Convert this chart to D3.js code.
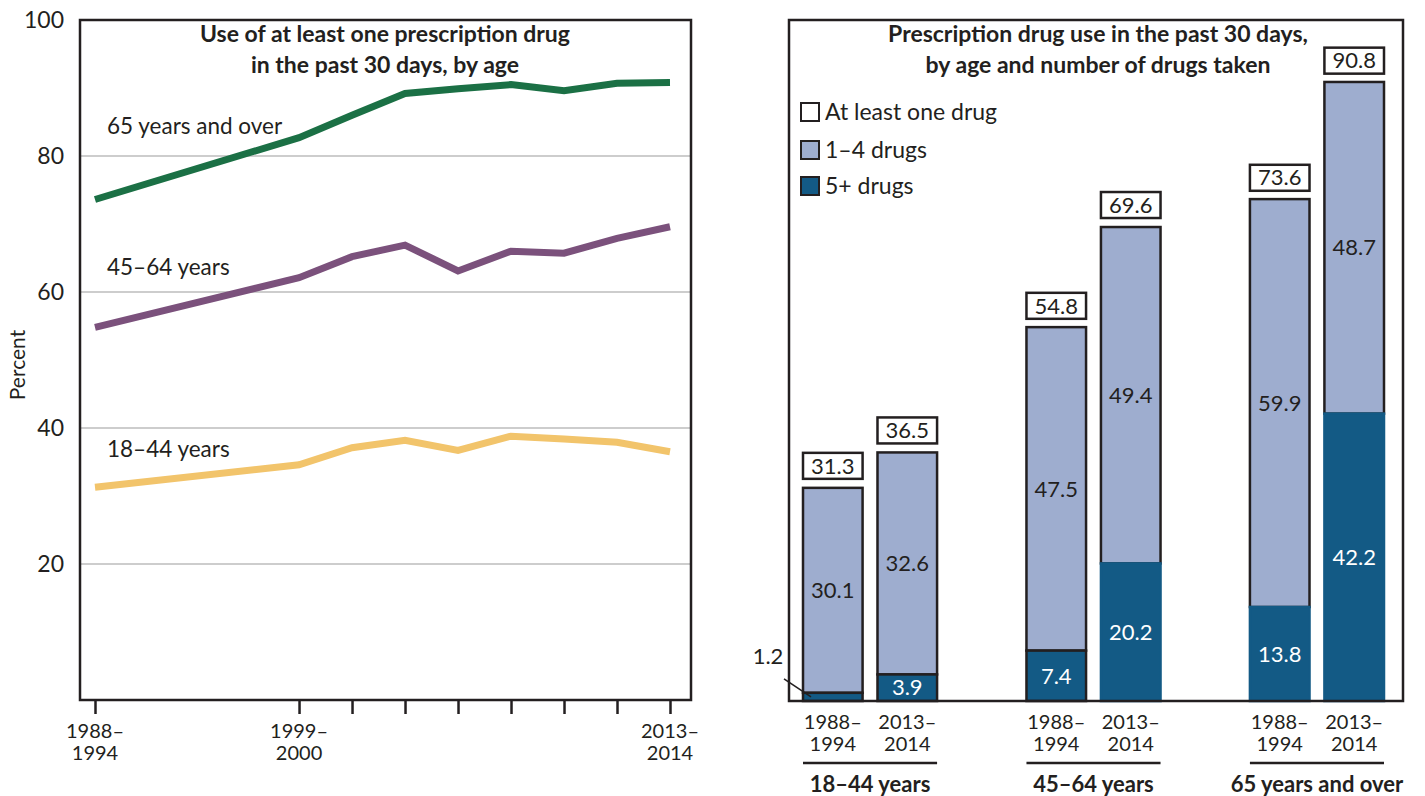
<!DOCTYPE html>
<html>
<head>
<meta charset="utf-8">
<script src="https://cdn.jsdelivr.net/npm/d3@7"></script>
<style>
  body { margin: 0; background: #fff; }
  svg text { font-family: Lato, "Open Sans", sans-serif; fill: #231f20; }
</style>
</head>
<body>
<svg id="chart"></svg>
<script>
// ---- data: left panel (line chart) ----
var periods = ["1988–1994", "1999–2000", "2001–2002", "2003–2004", "2005–2006", "2007–2008", "2009–2010", "2011–2012", "2013–2014"]
var periodMid = [1991.8, 1999.5, 2001.5, 2003.5, 2005.5, 2007.5, 2009.5, 2011.5, 2013.5]
var labeledPeriods = ["1988–1994", "1999–2000", "2013–2014"]
var age65 = [73.6, 82.7, 86.0, 89.2, 89.9, 90.5, 89.6, 90.7, 90.8]
var age45 = [54.8, 62.1, 65.2, 66.9, 63.1, 66.0, 65.7, 67.9, 69.6]
var age18 = [31.3, 34.6, 37.1, 38.2, 36.7, 38.8, 38.4, 37.9, 36.5]
var lineNames = ["65 years and over", "45–64 years", "18–44 years"]
var yTicks = [20, 40, 60, 80, 100]

// ---- data: right panel (stacked bars) ----
var ageGroups = ["18–44 years", "45–64 years", "65 years and over"]
var barPeriods = ["1988–1994", "2013–2014"]
var atLeastOne = [31.3, 36.5, 54.8, 69.6, 73.6, 90.8]
var oneToFour = [30.1, 32.6, 47.5, 49.4, 59.9, 48.7]
var fivePlus = [1.2, 3.9, 7.4, 20.2, 13.8, 42.2]
var legendItems = ["At least one drug", "1–4 drugs", "5+ drugs"]

var dimensions = {
    width: 1425,
    height: 796,
    left: { x0: 80, x1: 691, y0: 20, y1: 700 },
    right: { x0: 789, x1: 1403, y0: 20, y1: 701 }
}
var ink = "#231f20"
var lineColors = ["#1b7045", "#7b517c", "#f2c46b"]
var barColors = { light: "#9eadcf", dark: "#135a85" }

var svg = d3.select("#chart")
            .attr("width", dimensions.width)
            .attr("height", dimensions.height)

// ================= left panel =================
var L = dimensions.left
var xScale = d3.scaleLinear()
               .domain([periodMid[0], periodMid[periodMid.length - 1]])
               .range([95, 670])
var yScale = d3.scaleLinear()
               .domain([0, 100])
               .range([L.y1, L.y0])

// gridlines
svg.append("g")
   .selectAll("line")
   .data(yTicks.filter(d => d < 100))
   .join("line")
   .attr("x1", L.x0).attr("x2", L.x1)
   .attr("y1", d => yScale(d)).attr("y2", d => yScale(d))
   .style("stroke", "#bdbdbd")
   .style("stroke-width", 1.5)

// y tick labels
svg.append("g")
   .selectAll("text")
   .data(yTicks)
   .join("text")
   .attr("x", 64)
   .attr("y", d => yScale(d))
   .attr("dy", "0.35em")
   .attr("text-anchor", "end")
   .style("font-size", "23px")
   .text(d => d)

svg.append("text")
   .attr("transform", "translate(25,365) rotate(-90)")
   .attr("text-anchor", "middle")
   .style("font-size", "21px")
   .text("Percent")

// x axis ticks
var xAxisgen = d3.axisBottom(xScale)
                 .tickValues(periodMid)
                 .tickSize(14)
                 .tickFormat("")
var xAxis = svg.append("g")
               .attr("transform", `translate(0,${L.y1})`)
               .call(xAxisgen)
xAxis.select(".domain").remove()
xAxis.selectAll(".tick line").style("stroke", ink).style("stroke-width", 2.5)

// two-line period labels: one text per line
function splitPeriod(p) {
    var parts = p.split("–")
    return [parts[0] + "–", parts[1]]
}
var leftLabelData = []
periods.forEach((p, i) => {
    if (labeledPeriods.includes(p)) {
        splitPeriod(p).forEach((t, j) => leftLabelData.push({ t: t, x: periodMid[i], row: j }))
    }
})
svg.append("g")
   .selectAll("text")
   .data(leftLabelData)
   .join("text")
   .attr("x", d => xScale(d.x))
   .attr("y", d => 738 + d.row * 22)
   .attr("text-anchor", "middle")
   .style("font-size", "20px")
   .text(d => d.t)

// lines
var series = [age65, age45, age18]
var line = d3.line()
             .x((d, i) => xScale(periodMid[i]))
             .y(d => yScale(d))

svg.append("g")
   .selectAll("path")
   .data(series)
   .join("path")
   .attr("d", line)
   .style("fill", "none")
   .style("stroke", (d, i) => lineColors[i])
   .style("stroke-width", 7)
   .style("stroke-linejoin", "miter")

var lineLabelY = [126, 267, 449]
svg.append("g")
   .selectAll("text")
   .data(lineNames)
   .join("text")
   .attr("x", 107)
   .attr("y", (d, i) => lineLabelY[i])
   .attr("dy", "0.35em")
   .style("font-size", "22.5px")
   .text(d => d)

// frame
svg.append("rect")
   .attr("x", L.x0).attr("y", L.y0)
   .attr("width", L.x1 - L.x0).attr("height", L.y1 - L.y0)
   .style("fill", "none").style("stroke", ink).style("stroke-width", 2.5)

var leftTitle = svg.append("text")
                   .attr("text-anchor", "middle")
                   .style("font-size", "23px")
                   .style("font-weight", "bold")
leftTitle.append("tspan").attr("x", 385).attr("y", 42).text("Use of at least one prescription drug")
leftTitle.append("tspan").attr("x", 385).attr("y", 73).text("in the past 30 days, by age")

// ================= right panel =================
var R = dimensions.right
var groupScale = d3.scaleBand()
                   .domain(ageGroups)
                   .range([803, 1384])
                   .paddingInner(0.4)
var periodScale = d3.scaleBand()
                    .domain(barPeriods)
                    .range([0, groupScale.bandwidth()])
                    .paddingInner(0.2)
var yBar = d3.scaleLinear()
             .domain([0, 100])
             .range([R.y1, R.y0])

var bars = []
ageGroups.forEach((g, gi) => {
    barPeriods.forEach((p, pi) => {
        var k = gi * 2 + pi
        bars.push({ group: g, period: p, total: atLeastOne[k], mid: oneToFour[k], high: fivePlus[k],
                    x: groupScale(g) + periodScale(p) })
    })
})
var bw = periodScale.bandwidth()

var barG = svg.append("g")
              .selectAll("g")
              .data(bars)
              .join("g")

barG.append("rect")
    .attr("x", d => d.x).attr("width", bw)
    .attr("y", d => yBar(d.high + d.mid))
    .attr("height", d => yBar(0) - yBar(d.mid))
    .style("fill", barColors.light).style("stroke", ink).style("stroke-width", 2.5)

barG.append("rect")
    .attr("x", d => d.x).attr("width", bw)
    .attr("y", d => yBar(d.high))
    .attr("height", d => yBar(0) - yBar(d.high))
    .style("fill", barColors.dark).style("stroke", d => d.high < 10 ? ink : barColors.dark).style("stroke-width", 2.5)

// value labels
barG.append("text")
    .attr("x", d => d.x + bw / 2)
    .attr("y", d => yBar(d.high + d.mid / 2))
    .attr("dy", "0.35em")
    .attr("text-anchor", "middle")
    .style("font-size", "22px")
    .text(d => d.mid.toFixed(1))

barG.filter(d => d.high >= 2)
    .append("text")
    .attr("x", d => d.x + bw / 2)
    .attr("y", d => yBar(d.high / 2))
    .attr("dy", "0.35em")
    .attr("text-anchor", "middle")
    .style("font-size", "22px")
    .style("fill", "#fff")
    .text(d => d.high.toFixed(1))

var small = barG.filter(d => d.high < 2)
small.append("line")
     .attr("x1", d => d.x - 19).attr("y1", d => yBar(d.high) - 14)
     .attr("x2", d => d.x + 8).attr("y2", d => yBar(d.high / 2))
     .style("stroke", ink).style("stroke-width", 1.5)
small.append("text")
     .attr("x", d => d.x - 35)
     .attr("y", d => yBar(d.high) - 37)
     .attr("dy", "0.35em")
     .attr("text-anchor", "middle")
     .style("font-size", "22px")
     .text(d => d.high.toFixed(1))

// total boxes
barG.append("rect")
    .attr("x", d => d.x).attr("width", bw)
    .attr("y", d => yBar(d.total) - 35)
    .attr("height", 26)
    .style("fill", "#fff").style("stroke", ink).style("stroke-width", 2.5)
barG.append("text")
    .attr("x", d => d.x + bw / 2)
    .attr("y", d => yBar(d.total) - 22)
    .attr("dy", "0.35em")
    .attr("text-anchor", "middle")
    .style("font-size", "22px")
    .text(d => d.total.toFixed(1))

// period labels under bars
var barLabelData = []
bars.forEach(b => {
    splitPeriod(b.period).forEach((t, j) => barLabelData.push({ t: t, x: b.x + bw / 2, row: j }))
})
svg.append("g")
   .selectAll("text")
   .data(barLabelData)
   .join("text")
   .attr("x", d => d.x)
   .attr("y", d => 729 + d.row * 22)
   .attr("text-anchor", "middle")
   .style("font-size", "20px")
   .text(d => d.t)

// group underlines and labels
var gg = svg.append("g")
            .selectAll("g")
            .data(ageGroups)
            .join("g")
gg.append("line")
  .attr("x1", d => groupScale(d)).attr("x2", d => groupScale(d) + groupScale.bandwidth())
  .attr("y1", 763).attr("y2", 763)
  .style("stroke", ink).style("stroke-width", 2.5)
gg.append("text")
  .attr("x", d => groupScale(d) + groupScale.bandwidth() / 2)
  .attr("y", 784)
  .attr("dy", "0.35em")
  .attr("text-anchor", "middle")
  .style("font-size", "22px")
  .style("font-weight", "bold")
  .text(d => d)

// frame
svg.append("rect")
   .attr("x", R.x0).attr("y", R.y0)
   .attr("width", R.x1 - R.x0).attr("height", R.y1 - R.y0)
   .style("fill", "none").style("stroke", ink).style("stroke-width", 2.5)

var rightTitle = svg.append("text")
                    .attr("text-anchor", "middle")
                    .style("font-size", "23px")
                    .style("font-weight", "bold")
rightTitle.append("tspan").attr("x", 1098).attr("y", 42).text("Prescription drug use in the past 30 days,")
rightTitle.append("tspan").attr("x", 1098).attr("y", 73).text("by age and number of drugs taken")

// legend
var legendFill = ["#fff", barColors.light, barColors.dark]
var legendY = [112, 150, 186]
var lg = svg.append("g")
            .selectAll("g")
            .data(legendItems)
            .join("g")
            .attr("transform", (d, i) => `translate(801,${legendY[i]})`)
lg.append("rect")
  .attr("x", 0).attr("y", -9).attr("width", 18).attr("height", 18)
  .style("fill", (d, i) => legendFill[i]).style("stroke", ink).style("stroke-width", 2)
lg.append("text")
  .attr("x", 24).attr("y", 0).attr("dy", "0.35em")
  .style("font-size", "23px")
  .text(d => d)
</script>
</body>
</html>
